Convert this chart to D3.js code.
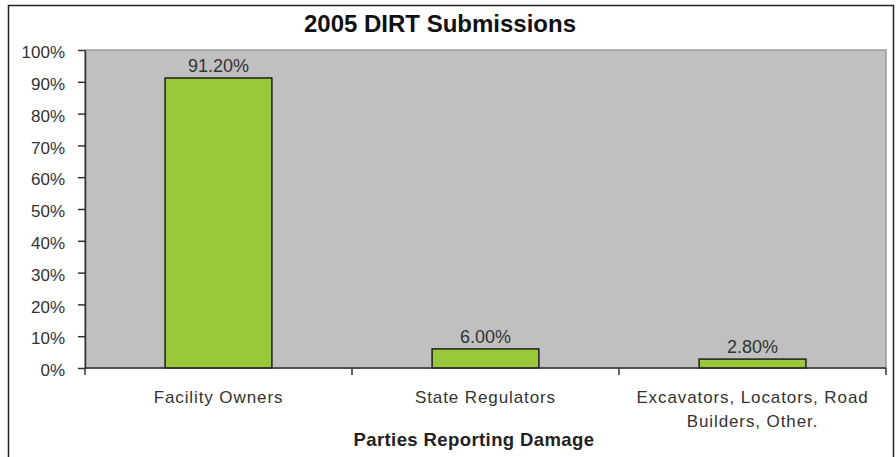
<!DOCTYPE html>
<html><head><meta charset="utf-8">
<script src="https://cdn.jsdelivr.net/npm/d3@7"></script>
<style>body{margin:0;background:#fff}svg{display:block}</style>
</head><body>
<script>
const categories = [["Facility Owners"], ["State Regulators"], ["Excavators, Locators, Road", "Builders, Other."]];
const values = [91.2, 6.0, 2.8];
const valueLabels = ["91.20%", "6.00%", "2.80%"];
const yTicks = [0,10,20,30,40,50,60,70,80,90,100];
const title = "2005 DIRT Submissions";
const xTitle = "Parties Reporting Damage";

const W = 896, H = 457;
const svg = d3.select("body").append("svg").attr("width", W).attr("height", H);
const font = "Arial, 'Liberation Sans', sans-serif";

// outer frame
svg.append("rect").attr("x", 8.5).attr("y", 5.5).attr("width", 885).attr("height", 470)
  .attr("fill", "#fff").attr("stroke", "#222").attr("stroke-width", 1.5);

const m = {left: 85, top: 50, right: 886, bottom: 368};
const x = d3.scaleBand().domain(d3.range(categories.length)).range([m.left, m.right]).paddingInner(0).paddingOuter(0);
const y = d3.scaleLinear().domain([0, 100]).range([m.bottom, m.top]);

// plot background
svg.append("rect").attr("x", m.left).attr("y", m.top).attr("width", m.right - m.left).attr("height", m.bottom - m.top)
  .attr("fill", "#c0c0c0").attr("stroke", "#9a9a9a").attr("stroke-width", 1.5);

// bars
const bw = x.bandwidth() * 0.4;
svg.selectAll("rect.bar").data(values).join("rect").attr("class", "bar")
  .attr("x", (d, i) => x(i) + (x.bandwidth() - bw) / 2)
  .attr("y", d => y(d))
  .attr("width", bw)
  .attr("height", d => y(0) - y(d))
  .attr("fill", "#99c93b").attr("stroke", "#1e1e1e").attr("stroke-width", 1.5);

// value labels
svg.selectAll("text.val").data(values).join("text").attr("class", "val")
  .attr("x", (d, i) => x(i) + x.bandwidth() / 2)
  .attr("y", d => y(d) - 6)
  .attr("text-anchor", "middle").attr("font-family", font).attr("font-size", 18).attr("fill", "#333")
  .text((d, i) => valueLabels[i]);

// y axis
const yAxis = d3.axisLeft(y).tickValues(yTicks).tickFormat(d => d + "%").tickSize(7).tickSizeOuter(0);
const gy = svg.append("g").attr("transform", `translate(${m.left},0)`).call(yAxis);
gy.select(".domain").attr("stroke", "#333").attr("stroke-width", 1.5);
gy.selectAll(".tick line").attr("stroke", "#333").attr("stroke-width", 1.5);
gy.selectAll(".tick text").attr("font-family", font).attr("font-size", 17).attr("fill", "#333")
  .attr("x", -20).attr("dy", "0.45em");

// x axis
const gx = svg.append("g").attr("transform", `translate(0,${m.bottom})`);
gx.append("line").attr("x1", m.left).attr("x2", m.right).attr("stroke", "#333").attr("stroke-width", 1.5);
const bounds = d3.range(categories.length + 1).map(i => i < categories.length ? x(i) : m.right);
gx.selectAll("line.t").data(bounds).join("line").attr("class", "t")
  .attr("x1", d => d).attr("x2", d => d).attr("y1", 0).attr("y2", 7).attr("stroke", "#333").attr("stroke-width", 1.5);
const xl = gx.selectAll("text.cat").data(categories).join("text").attr("class", "cat")
  .attr("x", (d, i) => x(i) + x.bandwidth() / 2).attr("y", 35)
  .attr("text-anchor", "middle").attr("font-family", font).attr("font-size", 17)
  .attr("letter-spacing", "0.9px").attr("fill", "#333");
xl.selectAll("tspan").data(d => d).join("tspan")
  .attr("x", function() { return d3.select(this.parentNode).attr("x"); })
  .attr("dy", (d, i) => i === 0 ? 0 : 24).text(d => d);

// axis title
svg.append("text").attr("x", 474).attr("y", 446).attr("text-anchor", "middle")
  .attr("font-family", font).attr("font-size", 18.5).attr("font-weight", "bold").attr("letter-spacing", "0.4px")
  .attr("fill", "#222").text(xTitle);

// title
svg.append("text").attr("x", 440).attr("y", 32).attr("text-anchor", "middle")
  .attr("font-family", font).attr("font-size", 24).attr("font-weight", "bold").attr("fill", "#111").text(title);
</script>
</body></html>
